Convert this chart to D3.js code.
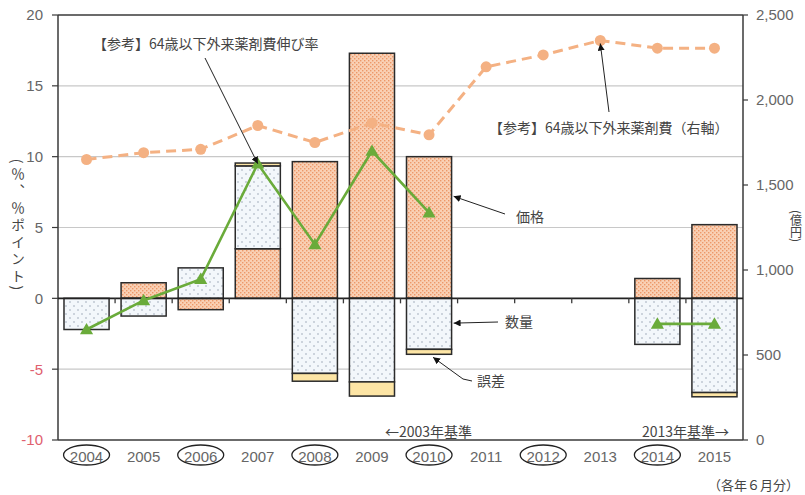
<!DOCTYPE html>
<html>
<head>
<meta charset="utf-8">
<script src="https://cdn.jsdelivr.net/npm/d3@7"></script>
<style>
  body { margin: 0; background: #fff; }
  svg { display: block; }
  text { font-family: "Noto Sans CJK JP", sans-serif; }
</style>
</head>
<body>
<svg id="chart" width="805" height="495"></svg>
<script>
// Fiscal years (June of each year)
const years = ["2004", "2005", "2006", "2007", "2008", "2009", "2010", "2011", "2012", "2013", "2014", "2015"];
// Contribution to growth (% points): price, quantity, residual error
const price    = [0,    1.1,  -0.8, 3.5,  9.65,  17.3, 10.0,  null, null, null, 1.4,   5.2];
const quantity = [-2.2, -1.25, 2.15, 5.85, -5.3, -5.9, -3.6,  null, null, null, -3.25, -6.65];
const residual = [0,    0,    0,    0.2,  -0.55, -1.0, -0.35, null, null, null, 0,     -0.3];
// Growth rate of outpatient drug cost, age 64 and under (%)
const growth   = [-2.2, -0.15, 1.35, 9.5, 3.8, 10.4, 6.05, null, null, null, -1.8, -1.8];
// Outpatient drug cost, age 64 and under (100 million yen, right axis)
const spending = [1650, 1690, 1710, 1850, 1750, 1865, 1795, 2195, 2265, 2350, 2305, 2305];
// Axis ticks
const leftTicks  = [-10, -5, 0, 5, 10, 15, 20];
const rightTicks = [0, 500, 1000, 1500, 2000, 2500];
// Years marked with an ellipse
const circled = ["2004", "2006", "2008", "2010", "2012", "2014"];

const svg = d3.select("#chart");
const L = 58, R = 743, T = 15, B = 440;
const numFont = '"Liberation Sans Narrow", "Liberation Sans", sans-serif';

const x = d3.scaleBand().domain(years).range([L, R]).paddingInner(0.21).paddingOuter(0.105);
const yL = d3.scaleLinear().domain([-10, 20]).range([B, T]);
const yR = d3.scaleLinear().domain([0, 2500]).range([B, T]);
const cx = y => x(y) + x.bandwidth() / 2;

// ---- patterns ----
const defs = svg.append("defs");
const pp = defs.append("pattern").attr("id", "pPrice").attr("patternUnits", "userSpaceOnUse")
  .attr("width", 4).attr("height", 4);
pp.append("rect").attr("width", 4).attr("height", 4).attr("fill", "#f9d0b4");
pp.append("rect").attr("x", 0).attr("y", 0).attr("width", 1.4).attr("height", 1.4).attr("fill", "#ed9868");
pp.append("rect").attr("x", 2).attr("y", 2).attr("width", 1.4).attr("height", 1.4).attr("fill", "#ed9868");

const pq = defs.append("pattern").attr("id", "pQty").attr("patternUnits", "userSpaceOnUse")
  .attr("width", 8).attr("height", 8);
pq.append("rect").attr("width", 8).attr("height", 8).attr("fill", "#f3f7fb");
pq.append("circle").attr("cx", 2).attr("cy", 2).attr("r", 0.8).attr("fill", "#9aa6b6");
pq.append("circle").attr("cx", 6).attr("cy", 6).attr("r", 0.8).attr("fill", "#9aa6b6");

const mk = defs.append("marker").attr("id", "arrow").attr("viewBox", "0 0 10 10")
  .attr("refX", 10).attr("refY", 5).attr("markerWidth", 7).attr("markerHeight", 7)
  .attr("markerUnits", "userSpaceOnUse").attr("orient", "auto");
mk.append("path").attr("d", "M0,0 L10,5 L0,10 Z").attr("fill", "#111");

// ---- gridlines ----
svg.append("g").selectAll("line").data([15, 10, 5, -5]).join("line")
  .attr("x1", L).attr("x2", R).attr("y1", d => yL(d)).attr("y2", d => yL(d))
  .attr("stroke", "#c8c8c8").attr("stroke-width", 1.2);

// ---- stacked bars ----
const rows = years.map((y, i) => ({
  year: y, price: price[i] || 0, quantity: quantity[i] || 0, error: residual[i] || 0
}));
const keys = ["price", "quantity", "error"];
const fills = { price: "url(#pPrice)", quantity: "url(#pQty)", error: "#fde5a5" };
const stacked = d3.stack().keys(keys).offset(d3.stackOffsetDiverging)(rows);

svg.append("g").selectAll("g").data(stacked).join("g")
  .attr("fill", s => fills[s.key])
  .selectAll("rect").data(s => s.filter(d => d[0] !== d[1])).join("rect")
  .attr("x", d => x(d.data.year))
  .attr("width", x.bandwidth())
  .attr("y", d => yL(Math.max(d[0], d[1])))
  .attr("height", d => Math.abs(yL(d[0]) - yL(d[1])))
  .attr("stroke", "#2b2b2b").attr("stroke-width", 1.5);

// ---- axes frame ----
const frame = svg.append("g").attr("stroke", "#3a3a3a");
frame.append("line").attr("x1", L).attr("x2", R).attr("y1", T).attr("y2", T).attr("stroke-width", 1.5);
frame.append("line").attr("x1", L).attr("x2", R).attr("y1", B).attr("y2", B).attr("stroke-width", 1.5);
frame.append("line").attr("x1", L).attr("x2", L).attr("y1", T).attr("y2", B).attr("stroke-width", 1.5);
frame.append("line").attr("x1", R).attr("x2", R).attr("y1", T).attr("y2", B).attr("stroke-width", 1.5);
// zero line with category separators
frame.append("line").attr("x1", L).attr("x2", R).attr("y1", yL(0)).attr("y2", yL(0))
  .attr("stroke", "#222").attr("stroke-width", 1.6);
frame.selectAll(".sep").data(years.slice(1)).join("line").attr("class", "sep")
  .attr("x1", d => x(d) - x.step() * x.paddingInner() / 2)
  .attr("x2", d => x(d) - x.step() * x.paddingInner() / 2)
  .attr("y1", yL(0)).attr("y2", yL(0) + 5).attr("stroke-width", 1.3);

// left ticks + labels
frame.selectAll(".lt").data(leftTicks).join("line").attr("class", "lt")
  .attr("x1", L - 6).attr("x2", L).attr("y1", d => yL(d)).attr("y2", d => yL(d)).attr("stroke-width", 1.2);
svg.append("g").selectAll("text").data(leftTicks).join("text")
  .attr("x", 43).attr("y", d => yL(d)).attr("dy", "0.36em")
  .attr("text-anchor", "end")
  .style("font-family", numFont).style("font-size", "15px")
  .attr("fill", d => d < 0 ? "#e0606e" : "#666")
  .text(d => d);

// right ticks + labels
frame.selectAll(".rt").data(rightTicks).join("line").attr("class", "rt")
  .attr("x1", R).attr("x2", R + 5).attr("y1", d => yR(d)).attr("y2", d => yR(d)).attr("stroke-width", 1.2);
svg.append("g").selectAll("text").data(rightTicks).join("text")
  .attr("x", 756).attr("y", d => yR(d)).attr("dy", "0.36em")
  .style("font-family", numFont).style("font-size", "15px")
  .attr("fill", "#666")
  .text(d3.format(","));

// year labels and ellipses
svg.append("g").selectAll("text").data(years).join("text")
  .attr("x", d => cx(d)).attr("y", 457).attr("dy", "0.36em").attr("text-anchor", "middle")
  .style("font-family", numFont).style("font-size", "15px").attr("fill", "#666")
  .text(d => d);
svg.append("g").selectAll("ellipse").data(circled).join("ellipse")
  .attr("cx", d => cx(d)).attr("cy", 455).attr("rx", 23).attr("ry", 10)
  .attr("fill", "none").attr("stroke", "#222").attr("stroke-width", 1.3);

// ---- spending line (right axis) ----
const sp = years.map((y, i) => ({ year: y, v: spending[i] }));
svg.append("path").datum(sp)
  .attr("d", d3.line().x(d => cx(d.year)).y(d => yR(d.v)))
  .attr("fill", "none").attr("stroke", "#f4b183").attr("stroke-width", 3)
  .attr("stroke-dasharray", "10,6");
svg.append("g").selectAll("circle").data(sp).join("circle")
  .attr("cx", d => cx(d.year)).attr("cy", d => yR(d.v)).attr("r", 5.5)
  .attr("fill", "#f4b183");

// ---- growth rate line ----
const gr = years.map((y, i) => ({ year: y, v: growth[i] }));
svg.append("path").datum(gr)
  .attr("d", d3.line().defined(d => d.v != null).x(d => cx(d.year)).y(d => yL(d.v)))
  .attr("fill", "none").attr("stroke", "#6aab3a").attr("stroke-width", 2.6);
svg.append("g").selectAll("path").data(gr.filter(d => d.v != null)).join("path")
  .attr("transform", d => `translate(${cx(d.year)},${yL(d.v) + 1})`)
  .attr("d", d3.symbol(d3.symbolTriangle, 75))
  .attr("fill", "#6aab3a");

// ---- annotations ----
const ann = svg.append("g").attr("fill", "#444").style("font-size", "14px");
const arrowLine = pts => svg.append("path")
  .attr("d", d3.line()(pts)).attr("fill", "none").attr("stroke", "#222")
  .attr("stroke-width", 1).attr("marker-end", "url(#arrow)");

ann.append("text").attr("x", 93).attr("y", 49).text("【参考】64歳以下外来薬剤費伸び率");
arrowLine([[205, 58], [cx("2007"), yL(growth[3])]]);

ann.append("text").attr("x", 489).attr("y", 133).text("【参考】64歳以下外来薬剤費（右軸）");
arrowLine([[609, 112], [cx("2013"), yR(spending[9]) + 3]]);

const barRight = x("2010") + x.bandwidth();
ann.append("text").attr("x", 516).attr("y", 222).text("価格");
arrowLine([[505, 214], [barRight + 2, yL(price[6] / 2 + 2.2)]]);

ann.append("text").attr("x", 505).attr("y", 327).text("数量");
arrowLine([[498, 322], [barRight + 2, yL(-1.75)]]);

ann.append("text").attr("x", 477).attr("y", 386).text("誤差");
arrowLine([[472, 381], [463, 379], [cx("2010") + 4, yL(quantity[6] + residual[6]) + 3]]);

ann.append("text").attr("x", 385).attr("y", 437).text("←2003年基準");
ann.append("text").attr("x", 642).attr("y", 437).text("2013年基準→");
ann.append("text").attr("x", 708).attr("y", 490).style("font-size", "13px").text("（各年６月分）");

// vertical axis titles
svg.append("text").attr("x", 18).attr("y", 226).attr("text-anchor", "middle")
  .style("writing-mode", "vertical-rl").style("font-size", "14px").style("letter-spacing", "3px")
  .attr("fill", "#444").text("(％、％ポイント)");
svg.append("text").attr("x", 796).attr("y", 226).attr("text-anchor", "middle")
  .style("writing-mode", "vertical-rl").style("font-size", "12px")
  .attr("fill", "#444").text("(億円)");
</script>
</body>
</html>
